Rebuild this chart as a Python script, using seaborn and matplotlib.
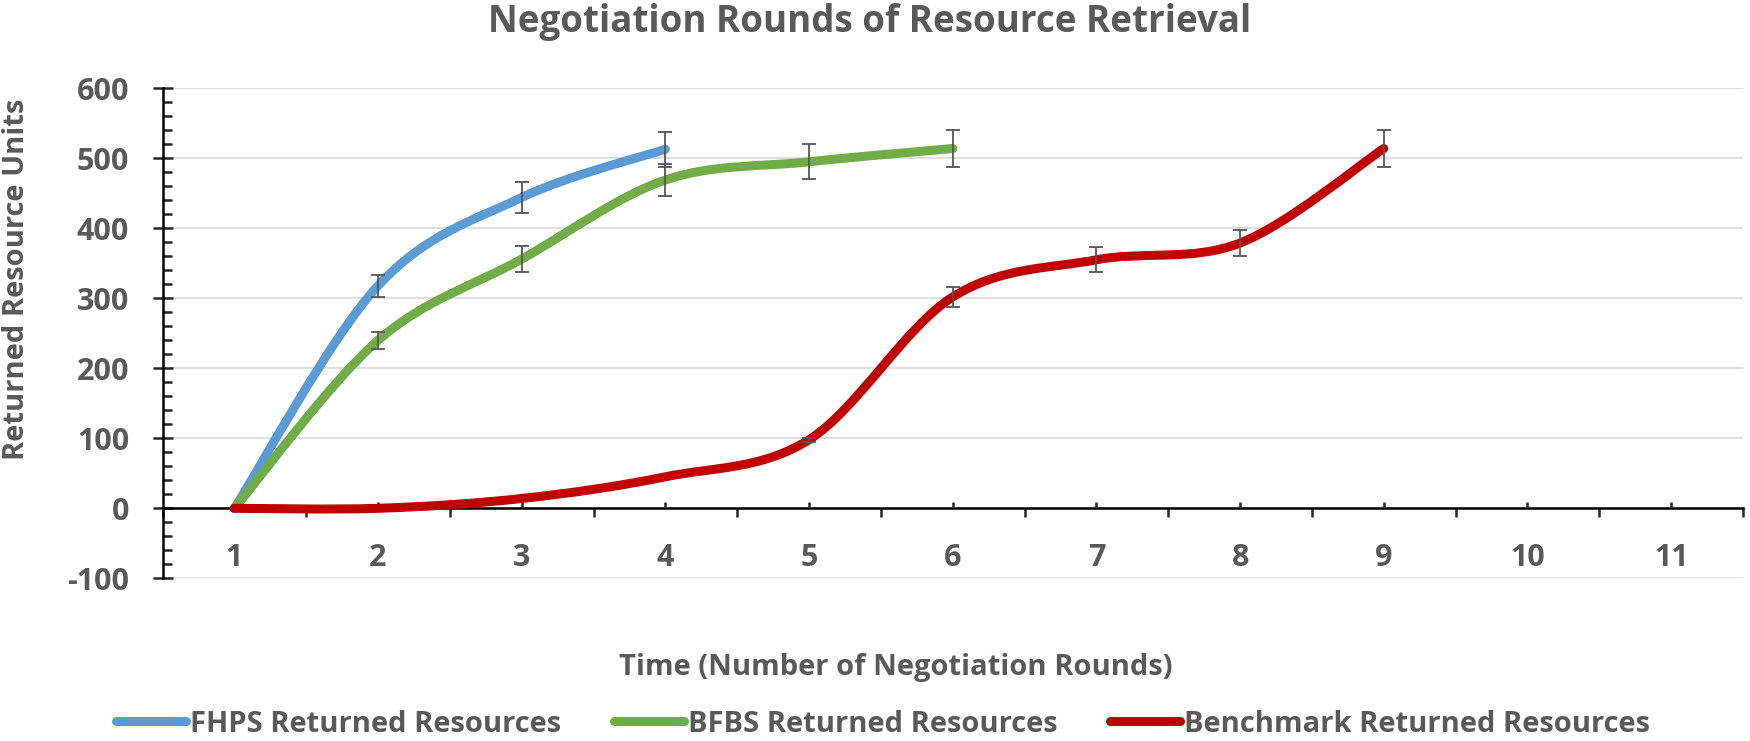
import numpy as np
import pandas as pd
import matplotlib.pyplot as plt
import seaborn as sns
from matplotlib.path import Path
from matplotlib.patches import PathPatch
from matplotlib.lines import Line2D
from matplotlib.ticker import FixedLocator, MultipleLocator, NullFormatter

# --- data ---
ROUNDS_FHPS = [1, 2, 3, 4]
FHPS = [0, 318, 444, 513]
FHPS_ERR = [0, 16, 22, 25]

ROUNDS_BFBS = [1, 2, 3, 4, 5, 6]
BFBS = [0, 240, 356, 469, 495, 514]
BFBS_ERR = [0, 12, 18, 23, 25, 26]

ROUNDS_BENCH = [1, 2, 3, 4, 5, 6, 7, 8, 9]
BENCH = [0, 0, 14, 45, 98, 302, 355, 379, 514]
BENCH_ERR = [0, 0, 0, 0, 3, 14, 18, 19, 26]

X_TICKS = list(range(1, 12))
Y_TICKS = list(range(-100, 601, 100))

LABELS = ["FHPS Returned Resources", "BFBS Returned Resources", "Benchmark Returned Resources"]
COLORS = ["#5B9BD5", "#70AD47", "#C00000"]
TEXT = "#595959"

sns.set_theme(style="white")
plt.rcParams['font.family'] = ['Open Sans', 'DejaVu Sans']
plt.rcParams['font.weight'] = 'bold'
plt.rcParams['axes.unicode_minus'] = False


def smooth_path(xs, ys):
    # Excel-style smoothed line: cubic bezier through every point
    pts = np.column_stack([xs, ys]).astype(float)
    n = len(pts)
    verts = [pts[0]]
    codes = [Path.MOVETO]
    for i in range(n - 1):
        p0 = pts[max(i - 1, 0)]
        p1 = pts[i]
        p2 = pts[i + 1]
        p3 = pts[min(i + 2, n - 1)]
        verts += [p1 + (p2 - p0) / 6, p2 - (p3 - p1) / 6, p2]
        codes += [Path.CURVE4] * 3
    return Path(verts, codes)


fig = plt.figure(figsize=(17.5, 7.41), dpi=100)
ax = fig.add_axes([162.5 / 1750, 1 - 578.3 / 741, (1743 - 162.5) / 1750, (578.3 - 88.3) / 741])

series = [(ROUNDS_FHPS, FHPS, FHPS_ERR), (ROUNDS_BFBS, BFBS, BFBS_ERR), (ROUNDS_BENCH, BENCH, BENCH_ERR)]
for (xs, ys, err), col in zip(series, COLORS):
    ax.add_patch(PathPatch(smooth_path(xs, ys), fill=False, edgecolor=col, lw=6.5,
                           capstyle='round', joinstyle='round', zorder=3))
for (xs, ys, err), col in zip(series, COLORS):
    df = pd.DataFrame({"x": xs, "y": ys, "e": err})
    df = df[df["e"] > 0]
    ax.errorbar(df["x"], df["y"], yerr=df["e"], fmt='none', ecolor="#555555",
                elinewidth=1.3, capsize=4.7, capthick=1.3, zorder=4)

ax.set_xlim(0.5, 11.5)
ax.set_ylim(-100, 600)

# y axis
ax.set_yticks(Y_TICKS)
ax.yaxis.set_minor_locator(MultipleLocator(20))
ax.tick_params(axis='y', which='major', direction='inout', length=14, width=1.8,
               labelsize=22, labelcolor=TEXT, pad=17, left=True)
ax.tick_params(axis='y', which='minor', direction='in', length=6.5, width=1.8, left=True)
ax.grid(axis='y', color='#D9D9D9', lw=1.2)
ax.set_axisbelow(True)

# x axis sits on zero, labels on the category centres
ax.spines['bottom'].set_position(('data', 0))
ax.xaxis.set_major_locator(FixedLocator(np.arange(0.5, 11.6, 1)))
ax.xaxis.set_major_formatter(NullFormatter())
ax.xaxis.set_minor_locator(FixedLocator(X_TICKS))
ax.set_xticks(X_TICKS, [str(t) for t in X_TICKS], minor=True)
ax.tick_params(axis='x', which='major', direction='out', length=6.5, width=1.8, bottom=True)
ax.tick_params(axis='x', which='minor', direction='in', length=4.3, width=1.8,
               labelsize=22, labelcolor=TEXT, pad=25, bottom=True)

for side in ['top', 'right']:
    ax.spines[side].set_visible(False)
for side in ['left', 'bottom']:
    ax.spines[side].set_color('black')
    ax.spines[side].set_linewidth(1.8)

for lab in ax.get_xticklabels(minor=True) + ax.get_yticklabels():
    lab.set_fontweight('bold')

fig.text(870 / 1750, 1 - 22 / 741, "Negotiation Rounds of Resource Retrieval",
         ha='center', va='center', fontsize=26.5, fontweight='bold', color=TEXT)
fig.text(17 / 1750, 1 - 279 / 741, "Returned Resource Units", rotation=90,
         ha='center', va='center', fontsize=21, fontweight='bold', color=TEXT)
fig.text(896 / 1750, 1 - 667 / 741, "Time (Number of Negotiation Rounds)",
         ha='center', va='center', fontsize=21, fontweight='bold', color=TEXT)

handles = [Line2D([0], [0], color=c, lw=6.5, solid_capstyle='round') for c in COLORS]
leg = fig.legend(handles, LABELS, loc='center', bbox_to_anchor=(883 / 1750, 1 - 724 / 741),
                 ncol=3, frameon=False, fontsize=21, handlelength=2.4, handletextpad=0.15,
                 columnspacing=1.8, borderpad=0.1)
for t in leg.get_texts():
    t.set_color(TEXT)
    t.set_fontweight('bold')

fig.savefig("out.png", dpi=100)
